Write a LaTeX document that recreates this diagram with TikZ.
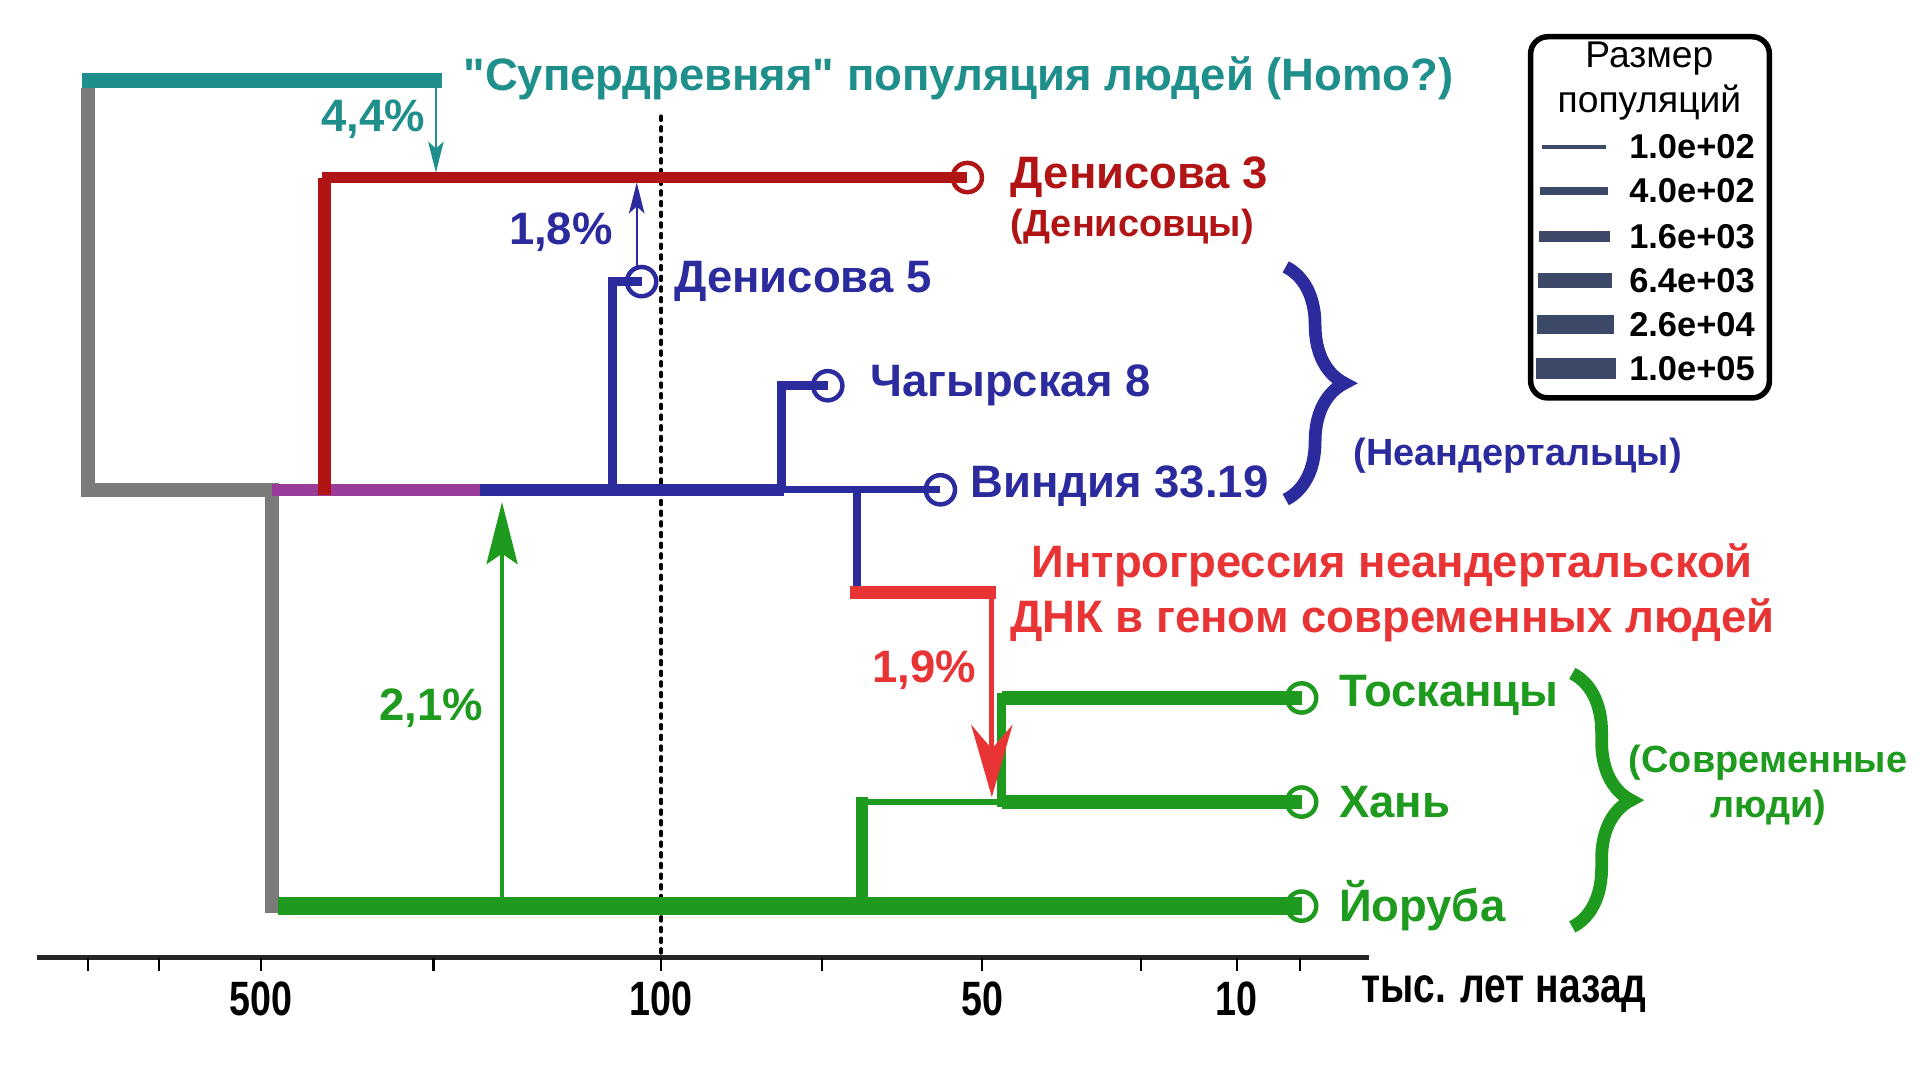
\documentclass[tikz,border=0pt]{standalone}
\usepackage{fontspec}
\setmainfont{Liberation Sans}[Ligatures=TeXOff]
\newfontfamily\narrowfont{Liberation Sans}[FakeStretch=0.78]
\usetikzlibrary{arrows.meta,decorations.pathreplacing}
\definecolor{cteal}{HTML}{1E8F8B}
\definecolor{cgray}{HTML}{7A7A7A}
\definecolor{cdred}{HTML}{B01414}
\definecolor{cblue}{HTML}{2B2B9E}
\definecolor{cpurp}{HTML}{9A3C9A}
\definecolor{cred}{HTML}{E83434}
\definecolor{cgreen}{HTML}{1E9A1E}
\definecolor{clgd}{HTML}{3B4868}
\tikzset{
  br/.style    ={line join=miter, line cap=butt},
  leaf/.style  ={draw, circle, minimum size=8.5pt, inner sep=0pt,
                 line width=1.3pt},
  lbl/.style   ={font=\bfseries\fontsize{13.2}{15}\selectfont, anchor=west,
                 inner sep=0pt},
  sublbl/.style={font=\bfseries\fontsize{11}{13}\selectfont, inner sep=0pt},
  pct/.style   ={font=\bfseries\fontsize{13.2}{16}\selectfont, inner sep=0pt},
  flow/.style  ={-{Stealth[length=9pt, width=4.5pt, inset=2pt]},
                 line width=0.6pt},
  upflow/.style={-{Stealth[length=18pt, width=9pt, inset=3pt]},
                 line width=1.25pt},
  dnflow/.style={-{Stealth[length=21pt, width=12pt, inset=7pt]},
                 line width=1.4pt},
  grp/.style   ={decorate, decoration={brace, amplitude=0.6cm},
                 line width=3.7pt},
  axlbl/.style ={font=\narrowfont\bfseries\fontsize{14}{16}\selectfont,
                 inner sep=0pt},
  lgd/.style   ={font=\bfseries\fontsize{10}{12}\selectfont, anchor=west,
                 inner sep=0pt},
}
\begin{document}
\begin{tikzpicture}[x=0.0125cm, y=-0.0125cm]
  \useasboundingbox (0,0) rectangle (1568,882);
  % axis
  \draw[dotted, line width=1.1pt, line cap=round] (540,95) -- (540,782);
  \draw[line width=1.4pt, black!85] (30,782) -- (1118,782);
  \foreach \t in {72,130,213,354,540,671,802,932,1010,1062}
    \draw[line width=0.6pt] (\t,782) -- (\t,793);
  \node[axlbl] (a500) at (213,816) {500};
  \node[axlbl] (a100) at (540,816) {100};
  \node[axlbl] (a50) at (802,816) {50};
  \node[axlbl] (a10) at (1010,816) {10};
  \node[axlbl, anchor=west, font=\narrowfont\bfseries\fontsize{14.5}{16}\selectfont]
    (unit) at (1111,812) {тыс. лет назад};

  % leaves
  \node[leaf, cdred] (d3) at (790,145) {};
  \node[leaf, cblue] (d5) at (524,230) {};
  \node[leaf, cblue] (c8) at (676,315) {};
  \node[leaf, cblue] (vi) at (768,400) {};
  \node[leaf, cgreen] (to) at (1063,570) {};
  \node[leaf, cgreen] (ha) at (1063,655) {};
  \node[leaf, cgreen] (yo) at (1063,740) {};

  % split points
  \coordinate (gtop) at (72,72);
  \coordinate (rt) at (222,400);
  \coordinate (hm) at (222,746);
  \coordinate (ns) at (392,400);
  \coordinate (dsp) at (265,404);
  \coordinate (d5s) at (500,400);
  \coordinate (c8s) at (638,400);
  \coordinate (cs) at (640,400);
  \coordinate (igs) at (700,400);
  \coordinate (ig) at (700,484);
  \coordinate (ig0) at (694,484);
  \coordinate (ig1) at (813,484);
  \coordinate (ys) at (227,740);
  \coordinate (ea) at (704,740);
  \coordinate (eat) at (704,655);
  \coordinate (ts) at (818,655);
  \coordinate (tst) at (818,570);

  % super-archaic
  \draw[br, cgray, line width=3.9pt] (gtop) |- (rt) -- (hm);
  \draw[br, cteal, line width=4.3pt] (67,66) coordinate (sa0)
    -- (361,66) coordinate (sa1);
  % archaic
  \draw[br, cpurp, line width=3.6pt] (rt) -- (ns);
  \draw[br, cdred, line width=3.6pt] (dsp) -- (dsp |- d3);
  \draw[br, cdred, line width=3.2pt] (263,145) -- (d3.center);
  \draw[br, cblue, line width=3.6pt] (ns) -- (cs);
  \draw[br, cblue, line width=2.1pt] (cs) -- (vi.center);
  \draw[br, cblue, line width=2.5pt] (d5s) |- (d5.center);
  \draw[br, cblue, line width=2.5pt] (c8s) |- (c8.center);
  \draw[br, cblue, line width=2.5pt] (igs) -- (ig);
  \draw[br, cred, line width=3.9pt] (ig0) -- (ig1);
  % modern
  \draw[br, cgreen, line width=5.3pt] (ys) -- (yo.center);
  \draw[br, cgreen, line width=3.6pt] (704,745) -- (704,651);
  \draw[br, cgreen, line width=1.8pt] (eat) -- (ts);
  \draw[br, cgreen, line width=3.9pt] (ts) -- (ha.center);
  \draw[br, cgreen, line width=2.8pt] (818,659) -- (818,566);
  \draw[br, cgreen, line width=4.3pt] (tst) -- (to.center);

  % gene flow
  \coordinate (f1a) at (356,70);
  \coordinate (f1b) at (356,141);
  \coordinate (f2a) at (520,218);
  \coordinate (f2b) at (520,149);
  \coordinate (f3a) at (410,735);
  \coordinate (f3b) at (410,410);
  \coordinate (f4a) at (810,488);
  \coordinate (f4b) at (810,651);
  \draw[flow, cteal] (f1a) -- (f1b);
  \draw[flow, cblue] (f2a) -- (f2b);
  \draw[upflow, cgreen] (f3a) -- (f3b);
  \draw[dnflow, cred] (f4a) -- (f4b);
  \node[pct, cteal] (p1) at (305,97) {4,4\%};
  \node[pct, cblue] (p2) at (458,190) {1,8\%};
  \node[pct, cgreen] (p3) at (352,578) {2,1\%};
  \node[pct, cred] (p4) at (755,547) {1,9\%};

  % labels
  \node[lbl, cteal] (tsa) at (378,64)
    {"Супердревняя" популяция людей (Homo?)};
  \node[lbl, cdred] (td3) at (825,145) {Денисова 3};
  \node[sublbl, cdred, anchor=west] (tden) at (825,185) {(Денисовцы)};
  \node[lbl, cblue] (td5) at (550,230) {Денисова 5};
  \node[lbl, cblue] (tc8) at (710,315) {Чагырская 8};
  \node[lbl, cblue] (tvi) at (792,397) {Виндия 33.19};
  \node[lbl, cgreen] (tto) at (1093,568) {Тосканцы};
  \node[lbl, cgreen] (tha) at (1093,655) {Хань};
  \node[lbl, cgreen] (tyo) at (1093,740) {Йоруба};
  \node[pct, cred, align=center] (tig) at (1137,484)
    {Интрогрессия неандертальской\\ДНК в геном современных людей};

  % groups
  \draw[grp, cblue] (1050,218) -- (1050,408);
  \node[sublbl, cblue, anchor=west] (tne) at (1105,372) {(Неандертальцы)};
  \draw[grp, cgreen] (1284,550) -- (1284,757);
  \node[sublbl, cgreen, align=center] (tmo) at (1444,641)
    {(Современные\\люди)};

  % legend
  \draw[line width=1.6pt, rounded corners=5pt] (1250,30) rectangle (1445,325);
  \node[font=\fontsize{10.8}{13}\selectfont, align=center] (lt) at (1347,66)
    {Размер\\популяций};
  \foreach \w/\v/\y [count=\i] in {1.2/1.0e+02/120, 2.1/4.0e+02/156,
      3.2/1.6e+03/193, 4.3/6.4e+03/229, 5.3/2.6e+04/265, 6.2/1.0e+05/301}
  {
    \draw[clgd, line width=\w pt, rounded corners=1pt]
      ({1260-\i},\y) -- ({1310+1.6*\i},\y);
    \node[lgd] (l\i) at (1330,\y) {\v};
  }
\end{tikzpicture}
\end{document}
